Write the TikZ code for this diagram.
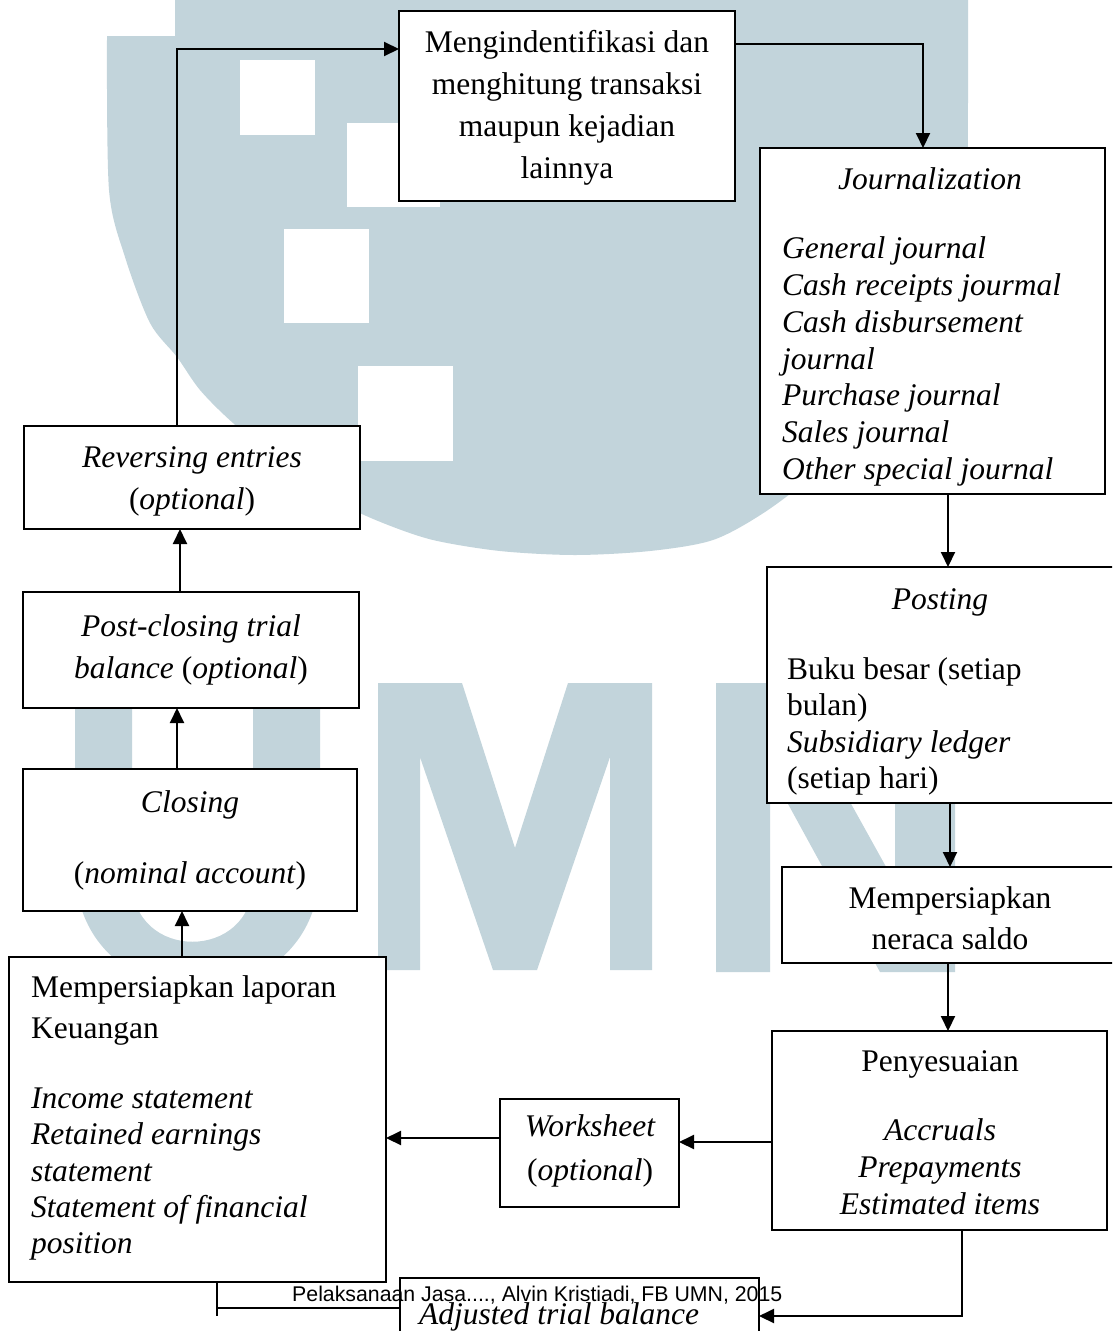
\documentclass[tikz,border=0pt]{standalone}
\usepackage{fontspec}
\setmainfont{Liberation Serif}
\newfontfamily\footfont{Liberation Sans}
\usetikzlibrary{arrows.meta}
\definecolor{wm}{RGB}{194,212,219}
\begin{document}
\begin{tikzpicture}[x=1pt,y=-1pt,
  box/.style={draw, line width=2pt, fill=white, inner sep=0pt, outer sep=0pt},
  txt/.style={inner sep=0pt, font=\fontsize{31.5}{36.5}\selectfont, anchor=base},
  ltxt/.style={txt, anchor=base west},
  arr/.style={line width=2pt, -{Triangle[length=15pt,width=14pt]}},
  ln/.style={line width=2pt}]
\useasboundingbox (0,0) rectangle (1112,1331);
\clip (0,0) rectangle (1112,1331);
\fill[white] (0,0) rectangle (1112,1331);
% ---- watermark ----
\fill[wm] (175,-5) -- (175,36) -- (107,36) -- plot[smooth] coordinates {(107,40) (109,190) (125,257) (150,323) (177,357) (200,390) (233,423) (290,470) (340,503) (383,523) (433,540) (500,551) (575,555) (650,551) (713,540) (765,512) (820,470) (880,415) (930,350) (958,280) (967,200) (968,100) (968,-5)} -- cycle;
\fill[white] (240,60) rectangle (315,135);
\fill[white] (347,123) rectangle (440,207);
\fill[white] (284,229) rectangle (369,323);
\fill[white] (358,366) rectangle (453,461);
\fill[wm] (75,683) -- (75,866) .. controls (75,1029) and (320,1029) .. (320,866) -- (320,683) -- (253,683) -- (253,881) .. controls (253,962) and (132,962) .. (132,881) -- (132,683) -- cycle;
\fill[wm] (378,683) -- (462,683) -- (515,848) -- (568,683) -- (652,683) -- (652,970) -- (610,970) -- (610,757) -- (537,970) -- (493,970) -- (420,757) -- (420,970) -- (378,970) -- cycle;
\fill[wm] (716,683) -- (784,683) -- (895,883) -- (895,683) -- (955,683) -- (955,972) -- (880,972) -- (770,771) -- (770,972) -- (716,972) -- cycle;
% ---- boxes ----
\node[box, minimum width=336pt, minimum height=190pt] (b1) at (567,106) {};
\node[box, minimum width=345pt, minimum height=346pt] (jour) at (932.5,321) {};
\node[box, minimum width=358pt, minimum height=236pt] (post) at (946,685) {};
\node[box, minimum width=343pt, minimum height=96pt] (mp) at (953.5,915) {};
\node[box, minimum width=335pt, minimum height=199pt] (pen) at (939.5,1130.5) {};
\node[box, minimum width=179pt, minimum height=108pt] (ws) at (589.5,1153) {};
\node[box, minimum width=377pt, minimum height=325pt] (lap) at (197.5,1119.5) {};
\node[box, minimum width=359pt, minimum height=67pt] (adj) at (579.5,1311.5) {};
\node[box, minimum width=336pt, minimum height=103pt] (rev) at (192,477.5) {};
\node[box, minimum width=336pt, minimum height=116pt] (pc) at (191,650) {};
\node[box, minimum width=334pt, minimum height=142pt] (cl) at (190,840) {};
% ---- texts ----
\node[txt] (b1a) at (567,52) {Mengindentifikasi dan};
\node[txt] (b1b) at (567,94) {menghitung transaksi};
\node[txt] (b1c) at (567,136) {maupun kejadian};
\node[txt] (b1d) at (567,178) {lainnya};
\node[txt] (j0) at (930,189) {\itshape Journalization};
\node[ltxt] (j1) at (782,258) {\itshape General journal};
\node[ltxt] (j2) at (782,295) {\itshape Cash receipts jourmal};
\node[ltxt] (j3) at (782,332) {\itshape Cash disbursement};
\node[ltxt] (j4) at (782,369) {\itshape journal};
\node[ltxt] (j5) at (782,405.5) {\itshape Purchase journal};
\node[ltxt] (j6) at (782,442) {\itshape Sales journal};
\node[ltxt] (j7) at (782,479) {\itshape Other special journal};
\node[txt] (p0) at (940,609) {\itshape Posting};
\node[ltxt] (p1) at (787,679) {Buku besar (setiap};
\node[ltxt] (p2) at (787,715) {bulan)};
\node[ltxt] (p3) at (787,752) {\itshape Subsidiary ledger};
\node[ltxt] (p4) at (787,788) {(setiap hari)};
\node[txt] (m1) at (950,908) {Mempersiapkan};
\node[txt] (m2) at (950,949) {neraca saldo};
\node[txt] (s0) at (940,1071) {Penyesuaian};
\node[txt] (s1) at (940,1140) {\itshape Accruals};
\node[txt] (s2) at (940,1177) {\itshape Prepayments};
\node[txt] (s3) at (940,1214) {\itshape Estimated items};
\node[txt] (w1) at (590,1136) {\itshape Worksheet};
\node[txt] (w2) at (590,1180) {(\textit{optional})};
\node[ltxt] (l1) at (31,997) {Mempersiapkan laporan};
\node[ltxt] (l2) at (31,1038) {Keuangan};
\node[ltxt] (l3) at (31,1108) {\itshape Income statement};
\node[ltxt] (l4) at (31,1144) {\itshape Retained earnings};
\node[ltxt] (l5) at (31,1181) {\itshape statement};
\node[ltxt] (l6) at (31,1217) {\itshape Statement of financial};
\node[ltxt] (l7) at (31,1253) {\itshape position};
\node[txt] (r1) at (192,467) {\itshape Reversing entries};
\node[txt] (r2) at (192,509) {(\textit{optional})};
\node[txt] (c1a) at (191,636) {\itshape Post-closing trial};
\node[txt] (c1b) at (191,678) {\textit{balance} (\textit{optional})};
\node[txt] (c2a) at (190,812) {\itshape Closing};
\node[txt] (c2b) at (190,883) {(\textit{nominal account})};
\node[ltxt] (a1) at (419,1324) {\itshape Adjusted trial balance};
% ---- connectors ----
\coordinate (k1) at (923,44);
\coordinate (k2) at (177,49);
\coordinate (k3) at (180,0);
\coordinate (k4) at (177,0);
\coordinate (k5) at (182,0);
\coordinate (k6) at (948,0);
\coordinate (k7) at (950,0);
\coordinate (k8) at (948,0);
\coordinate (k9) at (0,1142);
\coordinate (k10) at (0,1138);
\coordinate (k11) at (962,1316);
\coordinate (k12) at (217,1308);
\coordinate (k13) at (217,1316);
\draw[arr] (b1.east |- k1) -| (jour.north -| k1);
\draw[arr] (rev.north -| k2) |- (b1.west |- k2);
\draw[arr] (pc.north -| k3) -- (rev.south -| k3);
\draw[arr] (cl.north -| k4) -- (pc.south -| k4);
\draw[arr] (lap.north -| k5) -- (cl.south -| k5);
\draw[arr] (jour.south -| k6) -- (post.north -| k6);
\draw[arr] (post.south -| k7) -- (mp.north -| k7);
\draw[arr] (mp.south -| k8) -- (pen.north -| k8);
\draw[arr] (pen.west |- k9) -- (ws.east |- k9);
\draw[arr] (ws.west |- k10) -- (lap.east |- k10);
\draw[arr] (pen.south -| k11) |- (adj.east |- k11);
\draw[ln] (adj.west |- k12) -- (k12);
\draw[ln] (lap.south -| k12) -- (k13);
% ---- footer ----
\node[inner sep=0pt, anchor=base west, font=\footfont\fontsize{21.3}{24}\selectfont] (foot) at (292,1301) {Pelaksanaan Jasa...., Alvin Kristiadi, FB UMN, 2015};
\end{tikzpicture}
\end{document}
